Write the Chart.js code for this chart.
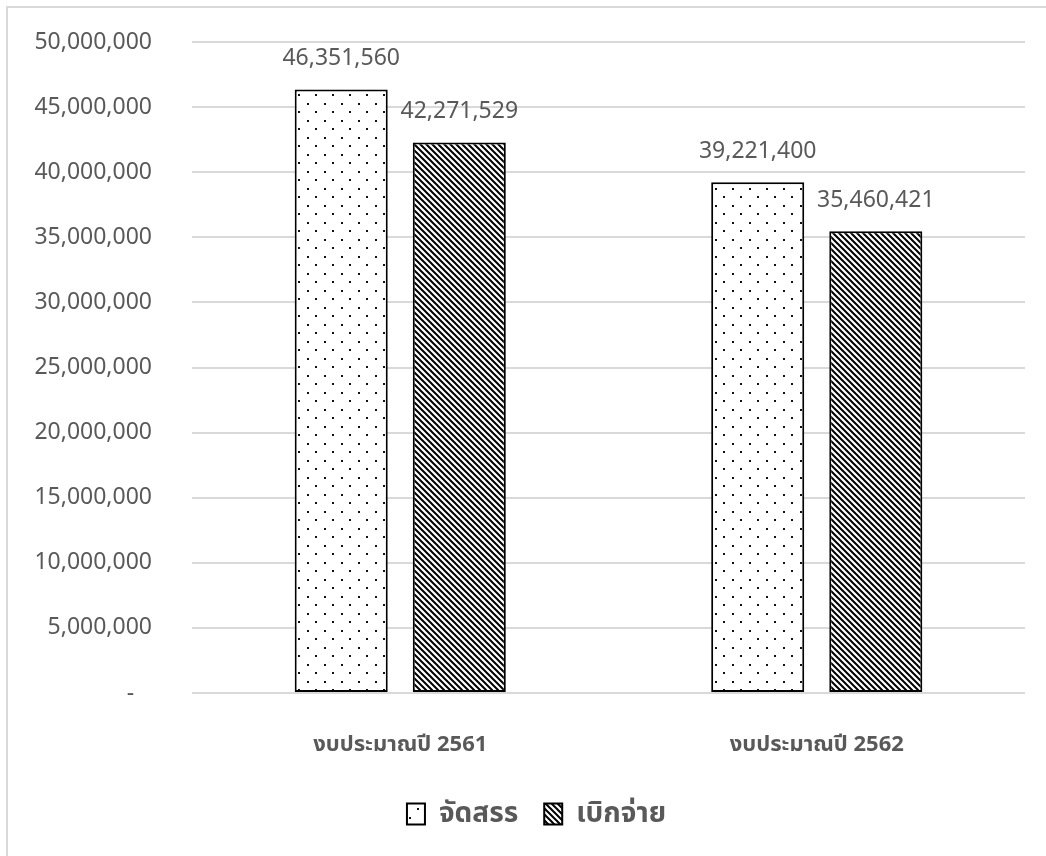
<!DOCTYPE html>
<html><head><meta charset="utf-8">
<script src="https://cdn.jsdelivr.net/npm/chart.js@4.4.1/dist/chart.umd.min.js"></script>
<style>
html,body{margin:0;padding:0;background:#fff;}
#wrap{position:relative;width:1046px;height:856px;overflow:hidden;}
#frame{position:absolute;left:6px;top:6px;width:1100px;height:900px;border:2px solid #d9d9d9;box-sizing:border-box;}
canvas{position:absolute;left:0;top:0;}
</style></head><body>
<div id="wrap"><div id="frame"></div><canvas id="c" width="1046" height="856"></canvas></div>
<script>
const categories = ['งบประมาณปี 2561', 'งบประมาณปี 2562'];
const seriesNames = ['จัดสรร', 'เบิกจ่าย'];
const allocated = [46351560, 39221400];
const disbursed = [42271529, 35460421];
const yMin = 0, yMax = 50000000, yStep = 5000000;

const FONT = "'Noto Sans', 'Noto Sans Thai', 'DejaVu Sans', sans-serif";
const TXT = '#595959';

function dotPattern() {
  const c = document.createElement('canvas'); c.width = 17; c.height = 17;
  const g = c.getContext('2d');
  g.fillStyle = '#fff'; g.fillRect(0, 0, 17, 17);
  g.fillStyle = '#111';
  g.fillRect(1, 1, 2, 2); g.fillRect(9, 9, 2, 2);
  return g.createPattern(c, 'repeat');
}
function hatchPattern() {
  const s = 6;
  const c = document.createElement('canvas'); c.width = s; c.height = s;
  const g = c.getContext('2d');
  g.fillStyle = '#fff'; g.fillRect(0, 0, s, s);
  g.strokeStyle = '#000'; g.lineWidth = 2;
  g.beginPath();
  g.moveTo(-1, -1); g.lineTo(s + 1, s + 1);
  g.moveTo(-1, s - 1); g.lineTo(1, s + 1);
  g.moveTo(s - 1, -1); g.lineTo(s + 1, 1);
  g.stroke();
  return g.createPattern(c, 'repeat');
}

const dataLabels = {
  id: 'dataLabels',
  afterDatasetsDraw(chart) {
    const ctx = chart.ctx;
    ctx.save();
    ctx.font = '23px ' + FONT;
    ctx.fillStyle = TXT;
    ctx.textAlign = 'center';
    ctx.textBaseline = 'middle';
    chart.data.datasets.forEach((ds, i) => {
      chart.getDatasetMeta(i).data.forEach((bar, j) => {
        ctx.fillText(ds.data[j].toLocaleString('en-US'), bar.x, bar.y - 31);
      });
    });
    ctx.restore();
  }
};

const legendShift = {
  id: 'legendShift',
  afterLayout(chart) {
    if (chart.legend) { chart.legend.left += 20; chart.legend.right += 20; }
  }
};

new Chart(document.getElementById('c'), {
  type: 'bar',
  data: {
    labels: categories,
    datasets: [
      { label: seriesNames[0], data: allocated, backgroundColor: dotPattern(), borderColor: '#000', borderWidth: 2, borderSkipped: false },
      { label: seriesNames[1], data: disbursed, backgroundColor: hatchPattern(), borderColor: '#000', borderWidth: 2, borderSkipped: false }
    ]
  },
  options: {
    responsive: false,
    animation: false,
    devicePixelRatio: 1,
    categoryPercentage: 0.567,
    barPercentage: 0.788,
    layout: { padding: { left: 8, right: 21, top: 42, bottom: 18 } },
    plugins: {
      tooltip: { enabled: false },
      legend: {
        position: 'bottom',
        labels: { boxWidth: 18, boxHeight: 21, padding: 26, color: TXT, font: { family: FONT, size: 28, weight: 'bold' } }
      }
    },
    scales: {
      x: {
        grid: { display: false },
        border: { display: false },
        ticks: { color: TXT, padding: 31, font: { family: FONT, size: 22, weight: 'bold' } },
        afterFit(s) { s.height = 81; }
      },
      y: {
        min: yMin, max: yMax,
        border: { display: false },
        grid: { color: '#d9d9d9', lineWidth: 2, drawTicks: false },
        ticks: {
          stepSize: yStep, padding: 40, color: TXT, font: { family: FONT, size: 23 },
          callback: v => v === 0 ? '-   ' : v.toLocaleString('en-US')
        },
        afterFit(s) { s.width = 184; s.paddingTop = 14; s.paddingBottom = 14; }
      }
    }
  },
  plugins: [dataLabels, legendShift]
});
</script>
</body></html>
